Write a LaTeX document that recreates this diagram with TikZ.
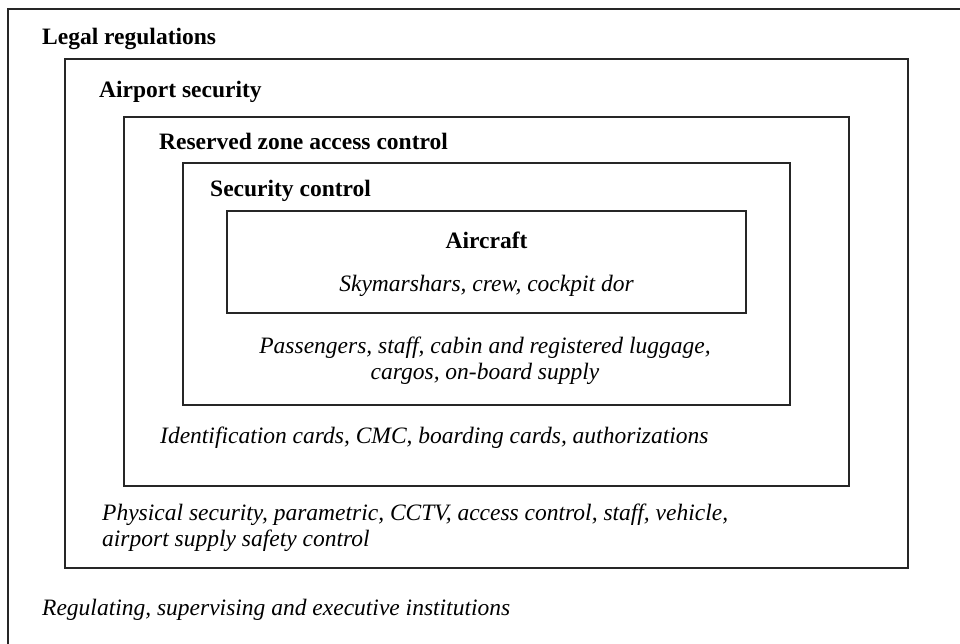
\documentclass[tikz,border=0pt]{standalone}
\usepackage{fontspec}
\setmainfont{Liberation Serif}
\begin{document}
\begin{tikzpicture}[x=1pt,y=-1pt,
  frame/.style={draw=black!85,line width=1.3pt,anchor=north west,inner sep=0pt,outer sep=0pt},
  ttl/.style={anchor=base west,inner sep=0pt,font=\fontsize{23.5}{27}\selectfont\bfseries},
  note/.style={anchor=base west,inner sep=0pt,font=\fontsize{23.5}{27}\selectfont\itshape},
  cnote/.style={anchor=base,inner sep=0pt,font=\fontsize{23.5}{27}\selectfont\itshape}]
\clip (0,0) rectangle (960,643);
\fill[white] (0,0) rectangle (960,643);
% boxes
\node[frame,minimum width=980pt,minimum height=660pt] (legal) at (8,9) {};
\node[frame,minimum width=843pt,minimum height=509pt] (airport) at (65,59) {};
\node[frame,minimum width=725pt,minimum height=369pt] (reserved) at (124,117) {};
\node[frame,minimum width=607pt,minimum height=242pt] (secctl) at (183,163) {};
\node[frame,minimum width=519pt,minimum height=102pt] (aircraft) at (227,211) {};
% titles
\node[ttl] (tlegal) at (42,44) {Legal regulations};
\node[ttl] (tairport) at (99,97) {Airport security};
\node[ttl] (treserved) at (159,149) {Reserved zone access control};
\node[ttl] (tsecctl) at (210,196) {Security control};
\node[ttl,anchor=base] (taircraft) at (486.5,248) {Aircraft};
% notes
\node[cnote] (naircraft) at (486.5,291) {Skymarshars, crew, cockpit dor};
\node[cnote] (nsecctlA) at (485,353) {Passengers, staff, cabin and registered luggage,};
\node[cnote] (nsecctlB) at (485,379) {cargos, on-board supply};
\node[note] (nreserved) at (160,443) {Identification cards, CMC, boarding cards, authorizations};
\node[note] (nairportA) at (102,520) {Physical security, parametric, CCTV, access control, staff, vehicle,};
\node[note] (nairportB) at (102,546) {airport supply safety control};
\node[note] (nlegal) at (42,615) {Regulating, supervising and executive institutions};
\end{tikzpicture}
\end{document}
